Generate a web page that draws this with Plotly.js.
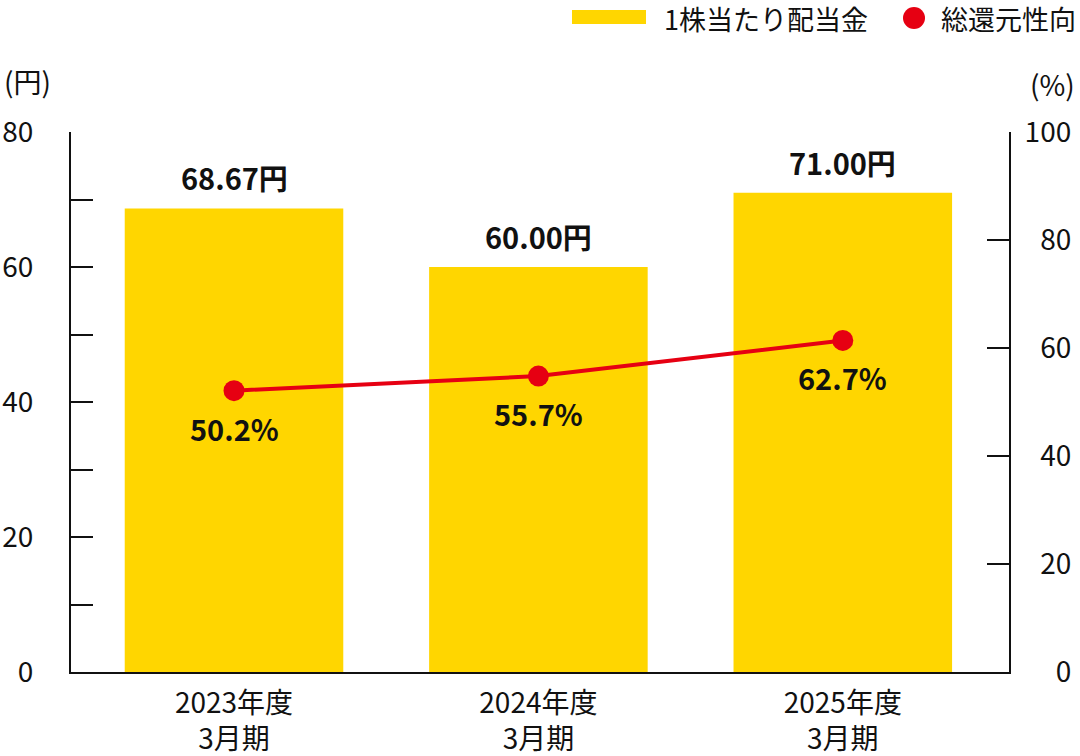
<!DOCTYPE html>
<html><head><meta charset="utf-8">
<script src="https://cdn.plot.ly/plotly-3.0.1.min.js"></script>
<style>body{margin:0;background:#fff}#chart{width:1080px;height:756px}</style>
</head><body><div id="chart"></div>
<script>
const categories = ["2023年度<br>3月期", "2024年度<br>3月期", "2025年度<br>3月期"];
const dividend = [68.67, 60.00, 71.00];
const dividendLabels = ["68.67円", "60.00円", "71.00円"];
const payoutPlotted = [52.1, 54.8, 61.4];
const payoutLabels = ["50.2%", "55.7%", "62.7%"];
const rightTickVals = [0, 20, 40, 60, 80, 100];
const rightTickText = ["\u2007\u20070", "\u200720", "\u200740", "\u200760", "\u200780", "100"];
const seriesNames = ["1株当たり配当金", "総還元性向"];

const FONT = "'Noto Sans CJK JP', 'Noto Sans', sans-serif";
const YELLOW = "#FFD600";
const RED = "#E60012";
const INK = "#111111";

// pixel -> paper helpers (plot area 71..1009 x 132..672)
const L = 71, R = 1009, T = 132, B = 672;
const px = v => (v - L) / (R - L);
const py = v => (B - v) / (B - T);

const traces = [
  {type: "bar", x: categories, y: dividend, name: seriesNames[0], marker: {color: YELLOW},
   width: 0.718, hoverinfo: "skip", showlegend: false},
  {type: "scatter", mode: "lines+markers", x: categories, y: payoutPlotted, yaxis: "y2",
   name: seriesNames[1], line: {color: RED, width: 4}, marker: {color: RED, size: 21},
   hoverinfo: "skip", showlegend: false}
];

const annotations = [];
categories.forEach((c, i) => {
  annotations.push({x: c, y: dividend[i], xref: "x", yref: "y", text: dividendLabels[i],
    showarrow: false, yanchor: "bottom", yshift: 8, font: {family: FONT, size: 29, color: INK, weight: 700}});
  annotations.push({x: c, y: payoutPlotted[i], xref: "x", yref: "y2", text: payoutLabels[i],
    showarrow: false, yanchor: "top", yshift: -14, font: {family: FONT, size: 29, color: INK, weight: 700}});
});
annotations.push({x: px(662), y: py(18), xref: "paper", yref: "paper", xanchor: "left", yanchor: "middle",
  text: seriesNames[0], showarrow: false, font: {family: FONT, size: 27, color: INK}});
annotations.push({x: px(939), y: py(18), xref: "paper", yref: "paper", xanchor: "left", yanchor: "middle",
  text: seriesNames[1], showarrow: false, font: {family: FONT, size: 27, color: INK}});
annotations.push({x: px(2), y: py(81), xref: "paper", yref: "paper", xanchor: "left", yanchor: "middle",
  text: "(円)", showarrow: false, font: {family: FONT, size: 28, color: INK}});
annotations.push({x: px(1077), y: py(84), xref: "paper", yref: "paper", xanchor: "right", yanchor: "middle",
  text: "(%)", showarrow: false, font: {family: FONT, size: 28, color: INK}});

const shapes = [
  {type: "rect", xref: "paper", yref: "paper", x0: px(572), x1: px(646), y0: py(24), y1: py(10),
   fillcolor: YELLOW, line: {width: 0}},
  {type: "circle", xref: "paper", yref: "paper", x0: px(903), x1: px(925), y0: py(29), y1: py(7),
   fillcolor: RED, line: {width: 0}}
];

const layout = {
  width: 1080, height: 756,
  margin: {l: L, r: 1080 - R, t: T, b: 756 - B, pad: 0},
  paper_bgcolor: "#fff", plot_bgcolor: "#fff",
  font: {family: FONT, size: 28, color: INK},
  showlegend: false,
  xaxis: {type: "category", range: [-0.5355, 2.546], showline: true, linecolor: INK, linewidth: 2,
    ticks: "", showgrid: false, zeroline: false, ticklabelstandoff: 5,
    tickfont: {family: FONT, size: 28, color: INK}, fixedrange: true},
  yaxis: {range: [0, 80], dtick: 20, tick0: 0, ticks: "inside", ticklen: 22, tickwidth: 2, tickcolor: INK,
    showline: true, linecolor: INK, linewidth: 2, showgrid: false, zeroline: false,
    ticklabelstandoff: 30, tickfont: {family: FONT, size: 28, color: INK},
    minor: {dtick: 10, tick0: 0, ticks: "inside", ticklen: 22, tickwidth: 2, tickcolor: INK, showgrid: false}},
  yaxis2: {range: [0, 100], overlaying: "y", side: "right", tickmode: "array", tickvals: rightTickVals,
    ticktext: rightTickText, ticks: "inside", ticklen: 22, tickwidth: 2, tickcolor: INK,
    showline: true, linecolor: INK, linewidth: 2, showgrid: false, zeroline: false,
    ticklabelstandoff: 8, tickfont: {family: FONT, size: 28, color: INK}},
  annotations: annotations,
  shapes: shapes
};

Plotly.newPlot("chart", traces, layout, {displayModeBar: false, staticPlot: true});
</script>
</body></html>
